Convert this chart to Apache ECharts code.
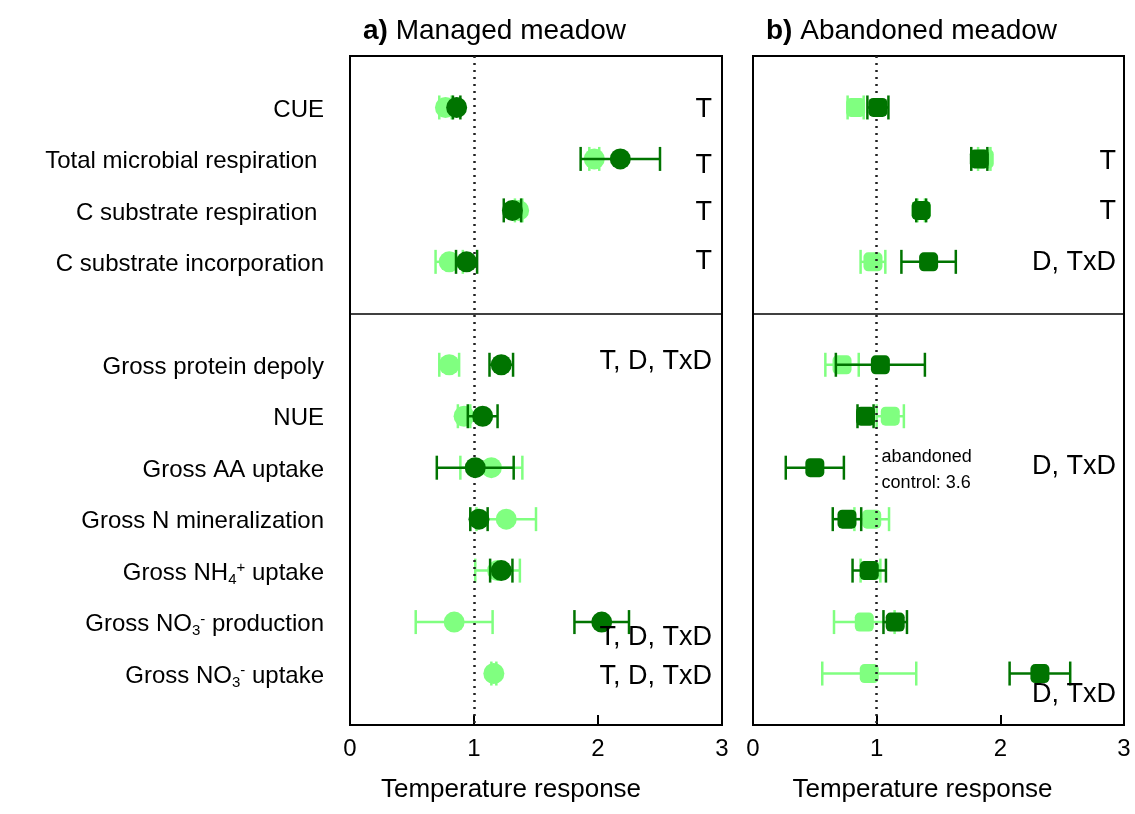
<!DOCTYPE html>
<html><head><meta charset="utf-8">
<script src="https://cdn.jsdelivr.net/npm/echarts@6/dist/echarts.min.js"></script>
<style>html,body{margin:0;padding:0;background:#fff}#c{width:1135px;height:814px}</style>
</head><body><div id="c"></div>
<script>
// ---- data ----
const rowLabels = ['CUE', 'Total microbial respiration ', 'C substrate respiration ', 'C substrate incorporation',
  'Gross protein depoly', 'NUE', 'Gross AA uptake', 'Gross N mineralization',
  'Gross NH{sub|4}{sup|+} uptake', 'Gross NO{sub|3}{sup|-} production', 'Gross NO{sub|3}{sup|-} uptake'];
const rowPos = [1, 2, 3, 4, 6, 7, 8, 9, 10, 11, 12];
const xTicks = [0, 1, 2, 3];

const managedLight    = [0.77, 1.97, 1.36, 0.80, 0.80, 0.92, 1.14, 1.26, 1.19, 0.84, 1.16];
const managedLightErr = [0.05, 0.04, 0.03, 0.11, 0.08, 0.05, 0.25, 0.24, 0.18, 0.31, 0.02];
const managedDark     = [0.86, 2.18, 1.31, 0.94, 1.22, 1.07, 1.01, 1.04, 1.22, 2.03, null];
const managedDarkErr  = [0.03, 0.32, 0.07, 0.085, 0.095, 0.12, 0.31, 0.07, 0.09, 0.22, null];

const abandonedLight    = [0.83, 1.87, 1.36, 0.97, 0.72, 1.11, null, 0.96, 0.95, 0.90, 0.94];
const abandonedLightErr = [0.065, 0.05, 0.03, 0.10, 0.135, 0.11, null, 0.14, 0.08, 0.245, 0.38];
const abandonedDark     = [1.01, 1.83, 1.36, 1.42, 1.03, 0.91, 0.50, 0.76, 0.94, 1.15, 2.32];
const abandonedDarkErr  = [0.085, 0.065, 0.04, 0.22, 0.36, 0.065, 0.235, 0.115, 0.135, 0.095, 0.245];

const sigManaged = [[2.92, 1.05, 'T'], [2.92, 2.12, 'T'], [2.92, 3.05, 'T'], [2.92, 4.0, 'T'],
  [2.92, 5.94, 'T, D, TxD'], [2.92, 11.3, 'T, D, TxD'], [2.92, 12.06, 'T, D, TxD']];
const sigAbandoned = [[2.935, 2.06, 'T'], [2.935, 3.03, 'T'], [2.935, 4.02, 'D, TxD'],
  [2.935, 7.98, 'D, TxD'], [2.935, 12.4, 'D, TxD']];
const noteAbandoned = [[1.04, 8.04, 'abandoned\ncontrol: 3.6']];

// ---- style ----
const LIGHT = '#80ff80', DARK = '#007400';
const FONT = '"Liberation Sans", Arial, sans-serif';

function pts(vals) { return vals.map((v, i) => v == null ? null : [v, rowPos[i]]).filter(d => d); }
function errs(vals, e) { return vals.map((v, i) => v == null ? null : [v, e[i], rowPos[i]]).filter(d => d); }

function errRender(color) {
  return function (params, api) {
    const x = api.value(0), e = api.value(1), y = api.value(2);
    const a = api.coord([x - e, y]), b = api.coord([x + e, y]);
    const h = 12;
    const st = { stroke: color, lineWidth: 2.5 };
    return { type: 'group', children: [
      { type: 'line', shape: { x1: a[0], y1: a[1], x2: b[0], y2: b[1] }, style: st },
      { type: 'line', shape: { x1: a[0], y1: a[1] - h, x2: a[0], y2: a[1] + h }, style: st },
      { type: 'line', shape: { x1: b[0], y1: b[1] - h, x2: b[0], y2: b[1] + h }, style: st }
    ]};
  };
}

function panelSeries(idx, light, lightErr, dark, darkErr, symbol, size, sig, notes) {
  const s = [];
  s.push({ type: 'custom', xAxisIndex: idx, yAxisIndex: idx, renderItem: errRender(LIGHT), data: errs(light, lightErr), z: 2,
    encode: { x: 0, y: 2 },
    markLine: { silent: true, symbol: 'none', label: { show: false },
      data: [{ yAxis: 5, lineStyle: { color: '#000', width: 1.5, type: 'solid' } },
             { xAxis: 1, lineStyle: { color: '#222', width: 2.5, type: [2, 5] } }] } });
  s.push({ type: 'scatter', xAxisIndex: idx, yAxisIndex: idx, symbol: symbol, symbolSize: size, data: pts(light),
    itemStyle: { color: LIGHT, opacity: 1 }, z: 3 });
  s.push({ type: 'custom', xAxisIndex: idx, yAxisIndex: idx, renderItem: errRender(DARK), data: errs(dark, darkErr), z: 4,
    encode: { x: 0, y: 2 } });
  s.push({ type: 'scatter', xAxisIndex: idx, yAxisIndex: idx, symbol: symbol, symbolSize: size, data: pts(dark),
    itemStyle: { color: DARK, opacity: 1 }, z: 5 });
  s.push({ type: 'scatter', xAxisIndex: idx, yAxisIndex: idx, symbolSize: 0, z: 6, itemStyle: { opacity: 1 },
    data: sig.map(d => ({ value: [d[0], d[1]], name: d[2] })),
    label: { show: true, position: 'left', distance: 0, formatter: '{b}', color: '#000', opacity: 1, fontSize: 27, fontFamily: FONT } });
  if (notes) s.push({ type: 'scatter', xAxisIndex: idx, yAxisIndex: idx, symbolSize: 0, z: 6, itemStyle: { opacity: 1 },
    data: notes.map(d => ({ value: [d[0], d[1]], name: d[2] })),
    label: { show: true, position: 'right', distance: 0, formatter: '{b}', color: '#000', opacity: 1, fontSize: 18, lineHeight: 26, fontFamily: FONT } });
  return s;
}

function xAxis(idx, pad) {
  return { type: 'value', gridIndex: idx, position: 'bottom', min: xTicks[0], max: xTicks[xTicks.length - 1], interval: 1,
    name: 'Temperature response', nameLocation: 'middle', nameGap: 52,
    nameTextStyle: { fontSize: 26, color: '#000', fontFamily: FONT, padding: pad },
    axisLine: { show: false, onZero: false }, splitLine: { show: false },
    axisTick: { show: true, inside: true, length: 10, lineStyle: { color: '#000', width: 2 } },
    axisLabel: { fontSize: 24, color: '#000', fontFamily: FONT, margin: 12 } };
}
function yAxis(idx, showLabels) {
  return { type: 'value', gridIndex: idx, inverse: true, min: 0, max: 13, interval: 1,
    axisLine: { show: false, onZero: false }, axisTick: { show: false }, splitLine: { show: false },
    axisLabel: { show: showLabels, margin: 26, fontSize: 24, color: '#000', fontFamily: FONT, padding: [5, 0, 0, 0],
      formatter: v => { const i = rowPos.indexOf(v); return i < 0 ? '' : rowLabels[i]; },
      rich: { sub: { fontSize: 15, fontFamily: FONT, color: '#000', padding: [13, 0, 0, 0] },
              sup: { fontSize: 15, fontFamily: FONT, color: '#000', padding: [0, 0, 10, 0] } } } };
}

const chart = echarts.init(document.getElementById('c'), null, { renderer: 'canvas' });
chart.setOption({
  animation: false,
  backgroundColor: '#fff',
  title: [
    { text: '{b|a)} Managed meadow', left: 358, top: 12, textStyle: { fontSize: 28, fontWeight: 'normal', color: '#000', fontFamily: FONT,
      rich: { b: { fontSize: 28, fontWeight: 'bold', color: '#000', fontFamily: FONT } } } },
    { text: '{b|b)} Abandoned meadow', left: 761, top: 12, textStyle: { fontSize: 28, fontWeight: 'normal', color: '#000', fontFamily: FONT,
      rich: { b: { fontSize: 28, fontWeight: 'bold', color: '#000', fontFamily: FONT } } } }
  ],
  grid: [
    { left: 350, right: 413, top: 56, bottom: 89, show: true, borderColor: '#000', borderWidth: 2 },
    { left: 753, right: 11, top: 56, bottom: 89, show: true, borderColor: '#000', borderWidth: 2 }
  ],
  xAxis: [xAxis(0, [0, 50, 0, 0]), xAxis(1, [0, 32, 0, 0])],
  yAxis: [yAxis(0, true), yAxis(1, false)],
  series: [].concat(
    panelSeries(0, managedLight, managedLightErr, managedDark, managedDarkErr, 'circle', 21, sigManaged, null),
    panelSeries(1, abandonedLight, abandonedLightErr, abandonedDark, abandonedDarkErr, 'roundRect', 19, sigAbandoned, noteAbandoned)
  )
});
</script></body></html>
